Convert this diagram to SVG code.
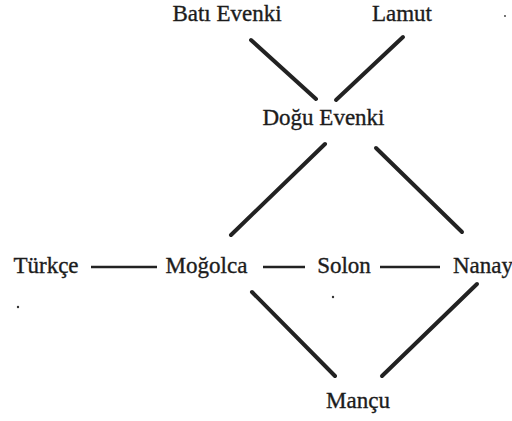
<svg xmlns="http://www.w3.org/2000/svg" width="512" height="421" viewBox="0 0 512 421">
  <style>
    .label { font-family: "Liberation Serif", "Times New Roman", serif; font-size: 23px; fill: #1c1c1c; stroke: #1c1c1c; stroke-width: 0.35px; }
    .diag { stroke: #222; stroke-width: 4; stroke-linecap: round; fill: none; }
    .link { stroke: #222; stroke-width: 2.4; stroke-linecap: butt; fill: none; }
  </style>
  <rect width="512" height="421" fill="#fff"/>

  <g id="connectors">
    <line class="diag" x1="251" y1="40" x2="316" y2="99"/>
    <line class="diag" x1="403" y1="37" x2="336" y2="100"/>
    <line class="diag" x1="325" y1="144" x2="231" y2="235"/>
    <line class="diag" x1="376" y1="148" x2="462" y2="232"/>
    <line class="diag" x1="252" y1="292" x2="335" y2="376"/>
    <line class="diag" x1="477" y1="284" x2="382" y2="376"/>
    <line class="link" x1="91" y1="267" x2="157" y2="267"/>
    <line class="link" x1="263" y1="267" x2="305" y2="267"/>
    <line class="link" x1="380" y1="267" x2="440" y2="267"/>
  </g>

  <g id="bati-evenki"><text class="label" x="227" y="21" text-anchor="middle">Batı Evenki</text></g>
  <g id="lamut"><text class="label" x="402" y="21" text-anchor="middle">Lamut</text></g>
  <g id="dogu-evenki"><text class="label" x="323.5" y="125" text-anchor="middle">Doğu Evenki</text></g>
  <g id="turkce"><text class="label" x="46" y="273" text-anchor="middle">Türkçe</text></g>
  <g id="mogolca"><text class="label" x="206.5" y="273" text-anchor="middle">Moğolca</text></g>
  <g id="solon"><text class="label" x="344" y="273" text-anchor="middle">Solon</text></g>
  <g id="nanay"><text class="label" x="453" y="273">Nanay</text></g>
  <g id="mancu"><text class="label" x="358" y="408" text-anchor="middle">Mançu</text></g>

  <!-- small specks -->
  <g fill="#333">
    <circle cx="18" cy="307" r="1.2"/>
    <circle cx="333" cy="297" r="1.2"/>
    <circle cx="505" cy="16" r="0.9"/>
  </g>
</svg>
